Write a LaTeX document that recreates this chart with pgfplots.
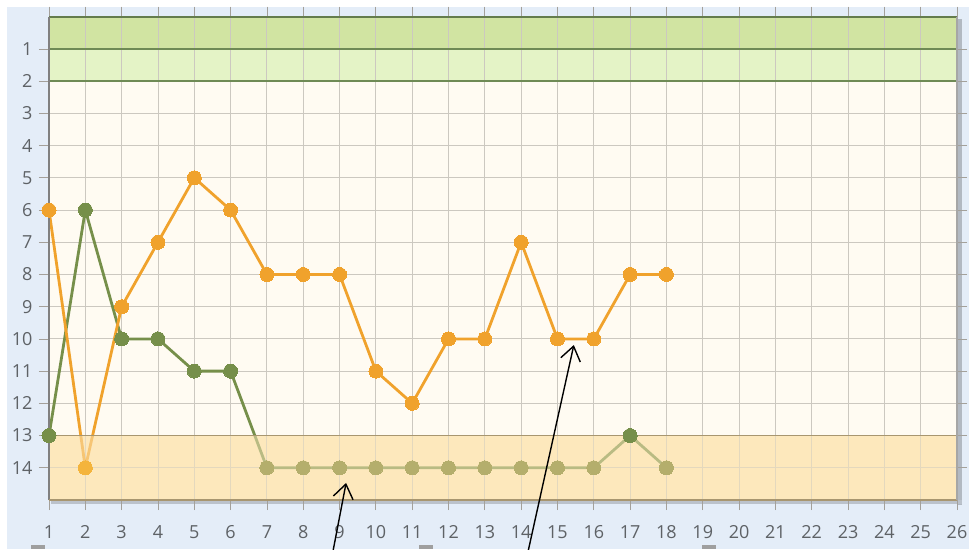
\documentclass[border=0pt]{standalone}
\usepackage{pgfplots}
\pgfplotsset{compat=1.18}
\usepackage{fontspec}
\setmainfont{Open Sans}
\usetikzlibrary{arrows.meta}
\definecolor{bgblue}{HTML}{E4EDF8}
\definecolor{plotbg}{HTML}{FFFBF2}
\definecolor{gdark}{HTML}{D1E4A2}
\definecolor{glight}{HTML}{E4F3C6}
\definecolor{oband}{HTML}{FDE8BC}
\definecolor{orangeS}{HTML}{F0A22C}
\definecolor{orangeL}{HTML}{F4B43C}
\definecolor{greenS}{HTML}{768F4A}
\definecolor{khaki}{HTML}{B4AE6C}
\definecolor{gridc}{HTML}{CCC8C0}
\definecolor{ticklab}{HTML}{5E6266}
\definecolor{gline}{HTML}{6F8A55}
\definecolor{bline}{HTML}{A89670}

\pgfplotstableread{
x y
1 6
2 14
3 9
4 7
5 5
6 6
7 8
8 8
9 8
10 11
11 12
12 10
13 10
14 7
15 10
16 10
17 8
18 8
}\orangedata

\pgfplotstableread{
x y
1 13
2 6
3 10
4 10
5 11
6 11
7 14
8 14
9 14
10 14
11 14
12 14
13 14
14 14
15 14
16 14
17 13
18 14
}\greendata

\begin{document}
\begin{tikzpicture}
\fill[white] (0pt,0pt) rectangle (969pt,549pt);
\fill[bgblue] (7pt,0pt) rectangle (969pt,542pt);
\fill[black!22!bgblue] (957pt,44pt) rectangle (962pt,530pt);
\fill[black!18!bgblue] (51pt,45pt) rectangle (962pt,49pt);
% plot area: x 49..957pt, y 49..532.3pt ; value v -> 532.3 - 32.22 v
\fill[plotbg] (49pt,49pt) rectangle (957pt,532.3pt);
\fill[gdark] (49pt,500.08pt) rectangle (957pt,532.3pt);
\fill[glight] (49pt,467.86pt) rectangle (957pt,500.08pt);
\fill[oband] (49pt,49pt) rectangle (957pt,113.44pt);
\begin{axis}[
  at={(49pt,49pt)}, anchor=south west,
  scale only axis, width=908pt, height=483.3pt,
  xmin=1, xmax=26, ymin=0, ymax=15, y dir=reverse,
  xtick={1,...,26}, ytick={1,...,14},
  grid=major, grid style={gridc, line width=0.9pt},
  tick align=outside, major tick length=10pt,
  tick style={gridc!80!black, line width=0.8pt},
  every tick label/.append style={font=\fontsize{18}{20}\selectfont, text=ticklab},
  xticklabel style={yshift=-12pt},
  yticklabel style={xshift=-3pt},
  /pgf/number format/assume math mode=true,
  axis line style={draw=none},
  clip=false,
]
\addplot[greenS, line width=2.8pt, no marks] table[x=x,y=y] {\greendata};
\addplot[orangeS, line width=2.8pt, no marks] table[x=x,y=y] {\orangedata};

\fill[oband, fill opacity=0.5] (axis cs:1,13) rectangle (axis cs:26,15);

\addplot[only marks, restrict y to domain=0:13.5, mark=*, mark size=7pt, mark options={fill=greenS, draw=greenS, line width=0pt}] table[x=x,y=y] {\greendata};
\addplot[only marks, restrict y to domain=13.5:15, mark=*, mark size=7pt, mark options={fill=khaki, draw=khaki, line width=0pt}] table[x=x,y=y] {\greendata};
\addplot[only marks, restrict y to domain=0:13.5, mark=*, mark size=7pt, mark options={fill=orangeS, draw=orangeS, line width=0pt}] table[x=x,y=y] {\orangedata};
\addplot[only marks, restrict y to domain=13.5:15, mark=*, mark size=7pt, mark options={fill=orangeL, draw=orangeL, line width=0pt}] table[x=x,y=y] {\orangedata};

\draw[gline, line width=1.6pt] (axis cs:1,1) -- (axis cs:26,1);
\draw[gline, line width=1.6pt] (axis cs:1,2) -- (axis cs:26,2);
\draw[bline, line width=1.6pt] (axis cs:1,13) -- (axis cs:26,13);
\draw[gline!90!black, line width=1.8pt] (axis cs:1,0) -- (axis cs:26,0);
\draw[black!50, line width=2pt] (axis cs:1,0) -- (axis cs:1,15);
\draw[bline, line width=2pt] (axis cs:1,15) -- (axis cs:26,15);
\draw[black!35, line width=1.5pt] (axis cs:26,0) -- (axis cs:26,15);

\draw[black, line width=1.4pt, -{Straight Barb[length=14pt,width=20pt,line width=1.4pt]}] (axis cs:8.80,16.7) -- (axis cs:9.18,14.47);
\draw[black, line width=1.4pt, -{Straight Barb[length=14pt,width=20pt,line width=1.4pt]}] (axis cs:14.17,16.7) -- (axis cs:15.45,10.19);
\end{axis}
\fill[gray!75] (31pt,0pt) rectangle (45pt,4pt);
\fill[gray!75] (419pt,0pt) rectangle (433pt,4pt);
\fill[gray!75] (702pt,0pt) rectangle (716pt,4pt);
\pgfresetboundingbox
\path[use as bounding box] (0pt,0pt) rectangle (969pt,549pt);
\end{tikzpicture}
\end{document}
